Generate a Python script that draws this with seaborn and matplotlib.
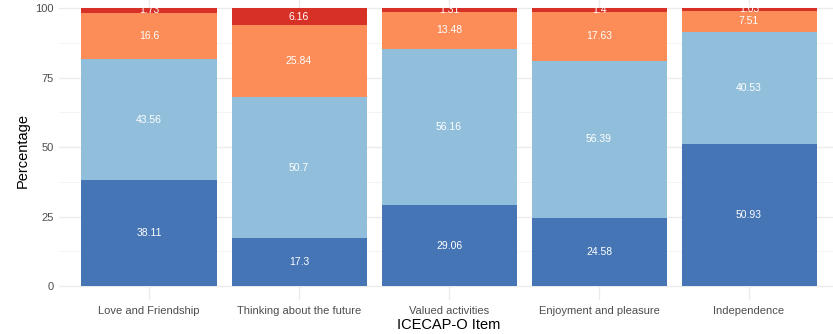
import numpy as np
import pandas as pd
import seaborn as sns
import matplotlib.pyplot as plt

items = ['Love and Friendship', 'Thinking about the future', 'Valued activities',
         'Enjoyment and pleasure', 'Independence']
# bottom to top segments
level1 = [38.11, 17.3, 29.06, 24.58, 50.93]
level2 = [43.56, 50.7, 56.16, 56.39, 40.53]
level3 = [16.6, 25.84, 13.48, 17.63, 7.51]
level4 = [1.73, 6.16, 1.31, 1.4, 1.03]
colors = ['#4575b4', '#91bfdb', '#fc8d59', '#d73027']

sns.set_theme(style='whitegrid')
plt.rcParams['font.family'] = ['Liberation Sans', 'DejaVu Sans']

layers = np.array([level1, level2, level3, level4])
cum = layers.cumsum(axis=0)

fig = plt.figure(figsize=(8.33, 3.34), dpi=100)
ax = fig.add_axes([59 / 833, 34 / 334, 780 / 833, 300 / 334])

# draw cumulative totals from top layer down so lower layers cover them
for i in range(3, -1, -1):
    df = pd.DataFrame({'item': items, 'value': cum[i]})
    sns.barplot(data=df, x='item', y='value', color=colors[i], width=0.9,
                saturation=1, linewidth=0, ax=ax, order=items)

# segment labels
for i in range(4):
    base = cum[i] - layers[i]
    for j in range(len(items)):
        ax.text(j, base[j] + layers[i][j] / 2, f'{layers[i][j]:g}', ha='center', va='center',
                color='white', fontsize=7.5)

ax.set_xlim(-0.6, 4.6)
ax.set_ylim(-5, 102.9)
ax.set_yticks([0, 25, 50, 75, 100])
ax.set_yticks([12.5, 37.5, 62.5, 87.5], minor=True)
ax.grid(True, which='major', color='#ebebeb', linewidth=1.0)
ax.grid(True, which='minor', axis='y', color='#f2f2f2', linewidth=0.6)
ax.set_axisbelow(True)
for s in ax.spines.values():
    s.set_visible(False)
ax.tick_params(axis='both', length=0, labelsize=8, labelcolor='#4d4d4d', pad=4)
ax.set_xlabel('ICECAP-O Item', fontsize=10.5, color='black', labelpad=2)
ax.set_ylabel('Percentage', fontsize=10.5, color='black', labelpad=4)

fig.savefig('out.png', dpi=100)
